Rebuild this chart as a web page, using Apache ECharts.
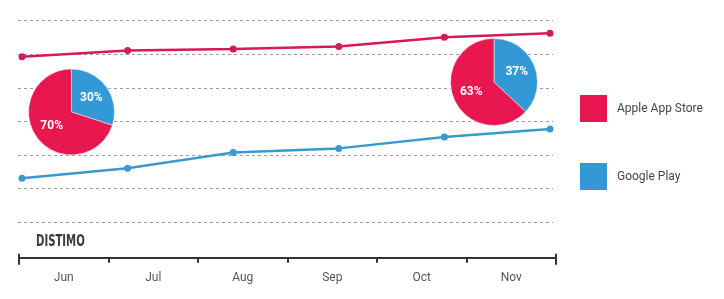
<!DOCTYPE html>
<html><head><meta charset="utf-8">
<script src="https://cdn.jsdelivr.net/npm/echarts@6/dist/echarts.min.js"></script>
<style>html,body{margin:0;padding:0;background:#fff}#c{width:724px;height:299px}</style>
</head><body><div id="c"></div>
<script>
const months = ['Jun','Jul','Aug','Sep','Oct','Nov'];
const appleValues = [49.3, 51.1, 51.6, 52.3, 55.1, 56.3];
const googleValues = [13.1, 16.1, 20.8, 22.0, 25.4, 27.8];
const pieJun = [{name:'Google Play', value:30},{name:'Apple App Store', value:70}];
const pieNov = [{name:'Google Play', value:37},{name:'Apple App Store', value:63}];
const seriesNames = ['Apple App Store','Google Play'];

const RED = '#E8174F', BLUE = '#3399D6';
const LRED = '#D41A58', LBLUE = '#3A9AD0';
const FONT = 'Roboto, sans-serif';

const chart = echarts.init(document.getElementById('c'));
const pieLabel = {show:true, position:'inside', color:'#fff', fontWeight:'bold', fontSize:12, fontFamily:FONT, formatter:'{c}%'};
chart.setOption({
  animation:false,
  grid:[
    {left:22, width:528, top:20.7, height:201.6},
    {left:18, width:535, top:20.7, height:201.6},
    {left:19, width:537, top:20, height:237.7}
  ],
  xAxis:[
    {gridIndex:0, type:'category', data:months, boundaryGap:false, show:false},
    {gridIndex:1, type:'category', data:months, show:false},
    {gridIndex:2, type:'category', data:months, boundaryGap:true, position:'bottom', offset:0,
     axisLine:{onZero:false, lineStyle:{color:'#333', width:2}},
     axisTick:{show:true, length:5, lineStyle:{color:'#333', width:2}},
     axisLabel:{color:'#555', fontSize:12, fontFamily:FONT, margin:14}},
    {gridIndex:2, type:'value', min:0, max:1, interval:1, position:'bottom', offset:0,
     axisLine:{show:false, onZero:false}, axisLabel:{show:false}, splitLine:{show:false},
     axisTick:{show:true, length:7, lineStyle:{color:'#333', width:2}}},
    {gridIndex:2, type:'value', min:0, max:1, interval:1, position:'bottom', offset:0,
     axisLine:{show:false, onZero:false}, axisLabel:{show:false}, splitLine:{show:false},
     axisTick:{show:true, inside:true, length:4, lineStyle:{color:'#333', width:2}}}
  ],
  yAxis:[
    {gridIndex:0, type:'value', min:0, max:60, interval:10, show:false},
    {gridIndex:1, type:'value', min:0, max:60, interval:10,
     axisLine:{show:false}, axisTick:{show:false}, axisLabel:{show:false},
     splitLine:{show:true, lineStyle:{color:'#9a9a9a', type:[3,3], width:1}}},
    {gridIndex:2, type:'value', min:0, max:1, show:false}
  ],
  legend:{
    orient:'vertical', left:580, top:95, padding:0, itemWidth:27, itemHeight:27, itemGap:41,
    icon:'rect',
    data:[
      {name:seriesNames[0], itemStyle:{color:RED}},
      {name:seriesNames[1], itemStyle:{color:BLUE}}
    ],
    textStyle:{color:'#444', fontSize:12, fontFamily:FONT, padding:[0,0,0,5]}
  },
  series:[
    {name:'Apple App Store', type:'line', xAxisIndex:0, yAxisIndex:0, data:appleValues,
     color:RED, symbol:'circle', symbolSize:7,
     lineStyle:{color:LRED, width:2.5}, itemStyle:{color:LRED}},
    {name:'Google Play', type:'line', xAxisIndex:0, yAxisIndex:0, data:googleValues,
     color:BLUE, symbol:'circle', symbolSize:7,
     lineStyle:{color:LBLUE, width:2.5}, itemStyle:{color:LBLUE}},
    {type:'pie', center:[71.5,112], radius:43, startAngle:90, clockwise:true,
     data:pieJun, label:pieLabel, labelLine:{show:false}, silent:true, legendHoverLink:false,
     color:[BLUE, RED], itemStyle:{borderColor:'#fff', borderWidth:0.5}},
    {type:'pie', center:[494,82], radius:43.5, startAngle:90, clockwise:true,
     data:pieNov, label:pieLabel, labelLine:{show:false}, silent:true, legendHoverLink:false,
     color:[BLUE, RED], itemStyle:{borderColor:'#fff', borderWidth:0.5}}
  ],
  graphic:[
    {type:'text', x:36, y:235, scaleX:0.75, style:{text:'DISTIMO', fill:'#3a3a3a', font:'bold 15px "DejaVu Sans Condensed", sans-serif'}}
  ]
});
</script></body></html>
